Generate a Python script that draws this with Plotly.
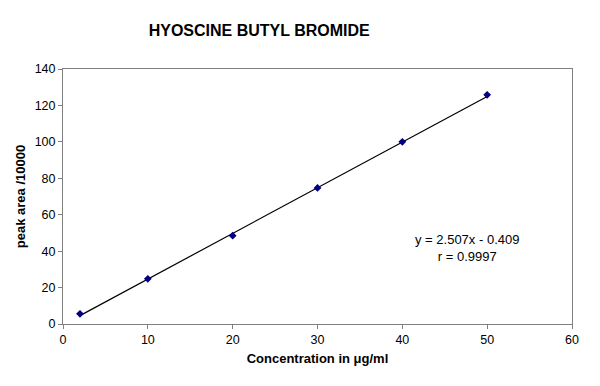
import plotly.graph_objects as go

# measured standards
conc = [2, 10, 20, 30, 40, 50]
peak_area = [5.6, 24.8, 48.5, 74.7, 100.0, 125.8]

# linear trendline end points (y = 2.507x - 0.409)
trend_x = [2, 50]
trend_y = [4.605, 124.94]

eq_text = "y = 2.507x - 0.409<br>r = 0.9997"

FONT = "Liberation Sans, Arial, sans-serif"

fig = go.Figure()

fig.add_trace(go.Scatter(
    x=trend_x, y=trend_y,
    mode="lines",
    line=dict(color="black", width=1.2),
    showlegend=False,
    hoverinfo="skip",
))

fig.add_trace(go.Scatter(
    x=conc, y=peak_area,
    mode="markers",
    marker=dict(symbol="diamond", size=6, color="#000080"),
    showlegend=False,
))

fig.add_annotation(
    x=47.6, y=41.5, xref="x", yref="y",
    text=eq_text, showarrow=False,
    font=dict(family=FONT, size=13, color="black"),
    align="center",
)

axis_style = dict(
    showgrid=False, zeroline=False, automargin=False,
    showline=True, linecolor="#808080", linewidth=1, mirror=True,
    ticks="outside", ticklen=4, tickcolor="#808080",
    tickfont=dict(family=FONT, size=12.5, color="black"),
)

fig.update_xaxes(
    range=[0, 60], dtick=10,
    title=dict(text="<b>Concentration in μg/ml</b>", standoff=7,
               font=dict(family=FONT, size=13, color="black")),
    **axis_style,
)
fig.update_yaxes(
    range=[0, 140], dtick=20,
    title=dict(text="<b>peak area /10000</b>", standoff=6,
               font=dict(family=FONT, size=13, color="black")),
    **axis_style,
)

fig.update_layout(
    width=600, height=386,
    margin=dict(l=63, r=28, t=69, b=62),
    paper_bgcolor="white", plot_bgcolor="white",
    title=dict(text="<b>HYOSCINE BUTYL BROMIDE</b>", x=0.432, xanchor="center",
               y=0.922, yanchor="middle",
               font=dict(family=FONT, size=16, color="black")),
    font=dict(family=FONT, color="black"),
)

# drop the browser's default body margin so the figure sits at 0,0
fig.write_html("out.html", config={"displayModeBar": False},
               post_script="document.body.style.margin='0';")
